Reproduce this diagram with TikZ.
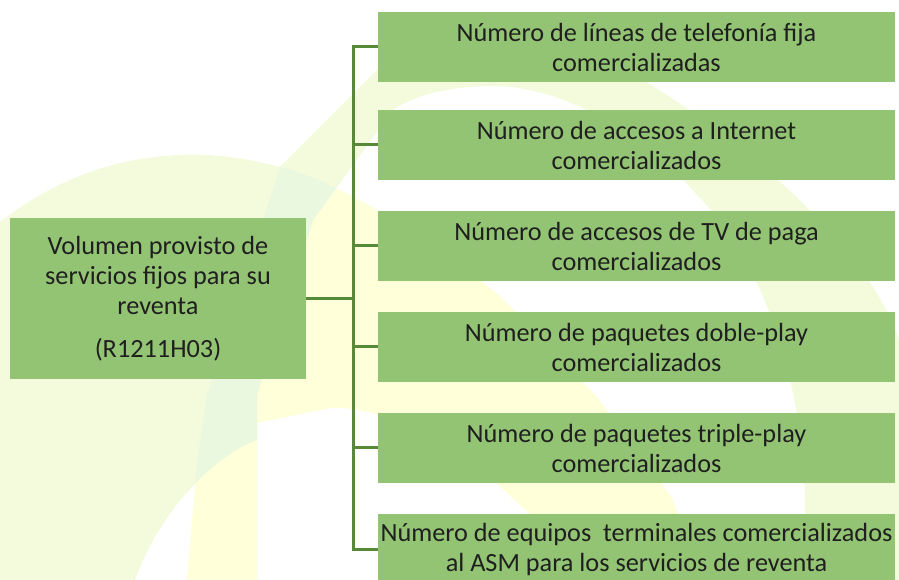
\documentclass[tikz,border=0pt]{standalone}
\usepackage{fontspec}
\setmainfont{Carlito}
\definecolor{boxgreen}{RGB}{147,196,115}
\definecolor{linegreen}{RGB}{88,137,56}
\definecolor{palegreen}{RGB}{244,251,221}
\definecolor{paleyellow}{RGB}{255,255,217}
\definecolor{palemix}{RGB}{234,248,224}

% watermark shapes behind the chart
\newcommand\yellowarc[1]{\path[#1] (280,167) .. controls (320,176) and (400,215) .. (500,296) -- (597,397) -- (672,498) -- (705,580) -- (560,580) -- (530,514) -- (495,482) .. controls (440,440) and (380,405) .. (330,408) -- (257,423) -- (257,580) -- (187,580) -- (197,463) -- (207,395) -- cycle;}
\newcommand\greenarc[1]{\path[#1] (0,222) .. controls (60,175) and (130,152) .. (205,155) .. controls (235,156) and (260,162) .. (280,167) -- (375,72) .. controls (420,35) and (570,35) .. (640,78) .. controls (750,145) and (870,250) .. (899,340) -- (899,580) -- (805,580) -- (805,498) .. controls (802,390) and (770,270) .. (697,195) .. controls (640,130) and (560,86) .. (493,86) .. controls (450,86) and (415,95) .. (393,110) -- (313,220) -- (257,395) -- (257,440) .. controls (215,455) and (160,510) .. (135,580) -- (0,580) -- cycle;}

\begin{document}
\begin{tikzpicture}[x=0.75pt,y=-0.75pt,
  box/.style={fill=boxgreen, text=black!88, inner sep=0pt, align=center,
    font=\fontsize{19.7}{22.5}\selectfont},
  hub/.style={box, minimum width=222pt, minimum height=120.75pt},
  leaf/.style={box, minimum width=387.75pt, minimum height=52.5pt},
  link/.style={draw=linegreen, line width=2.25pt}]
\useasboundingbox (0,0) rectangle (899,580);
\clip (0,0) rectangle (899,580);

% background logo
\yellowarc{fill=paleyellow}
\greenarc{fill=palegreen}
\begin{scope}
\yellowarc{clip}
\greenarc{fill=palemix}
\end{scope}

% boxes
\node[hub] (vol) at (158,298.5) {Volumen provisto de\\servicios fijos para su\\reventa\\[9.75pt](R1211H03)};
\node[leaf] (lineas) at (636.5,47) {Número de líneas de telefonía fija\\comercializadas};
\node[leaf] (internet) at (636.5,145) {Número de accesos a Internet\\comercializados};
\node[leaf] (tv) at (636.5,246) {Número de accesos de TV de paga\\comercializados};
\node[leaf] (doble) at (636.5,347) {Número de paquetes doble-play\\comercializados};
\node[leaf] (triple) at (636.5,448) {Número de paquetes triple-play\\comercializados};
\node[leaf] (equipos) at (636.5,549) {Número de equipos\ \ terminales comercializados\\al ASM para los servicios de reventa};

% connectors
\coordinate (trunk) at (353,298.5);
\draw[link] (vol.east) -- (trunk);
\draw[link] (trunk) |- (lineas.west);
\draw[link] (trunk) |- (internet.west);
\draw[link] (trunk) |- (tv.west);
\draw[link] (trunk) |- (doble.west);
\draw[link] (trunk) |- (triple.west);
\draw[link] (trunk) |- (equipos.west);
\end{tikzpicture}
\end{document}
